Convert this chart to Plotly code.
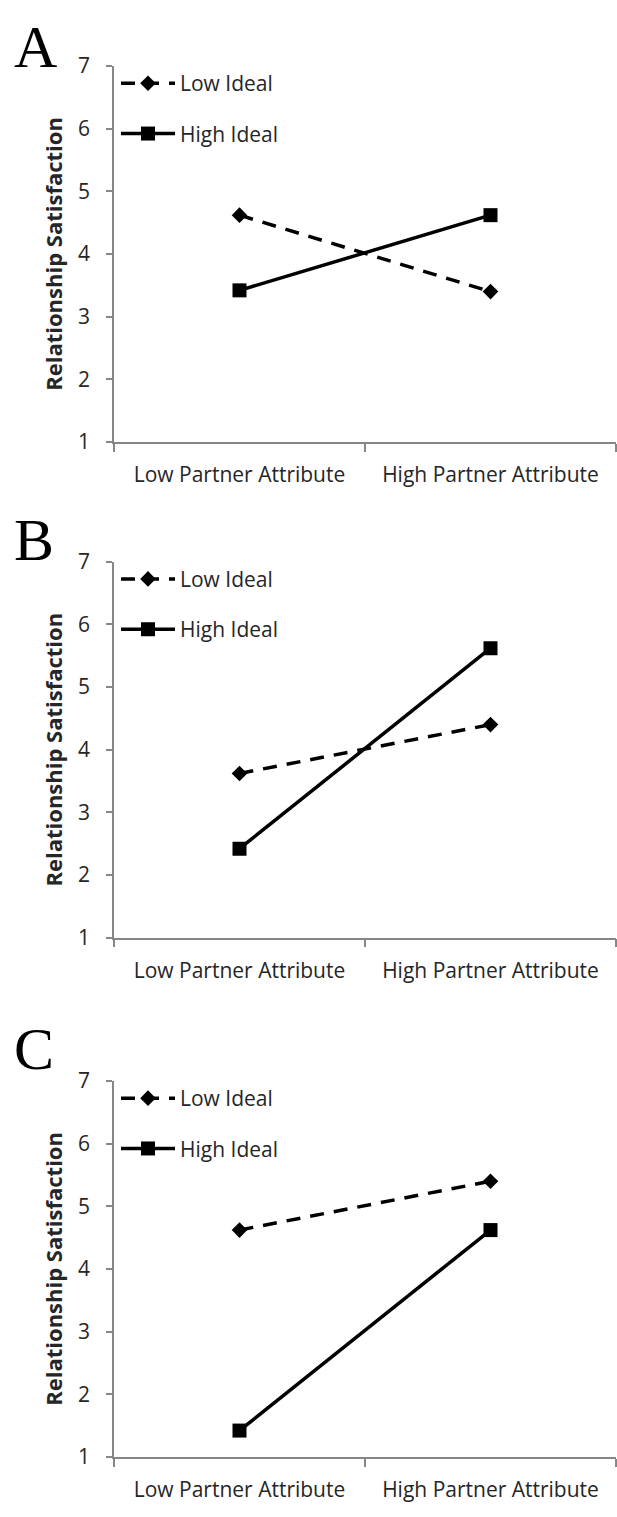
import plotly.graph_objects as go

categories = ["Low Partner Attribute", "High Partner Attribute"]
panels = ["A", "B", "C"]
low_ideal = {"A": [4.62, 3.40], "B": [3.62, 4.40], "C": [4.62, 5.40]}
high_ideal = {"A": [3.42, 4.62], "B": [2.42, 5.62], "C": [1.42, 4.62]}
y_ticks = [1, 2, 3, 4, 5, 6, 7]

W, H = 617, 1517
# pixel layout (top, bottom) of each plot area
plot_px = {"A": (52, 435), "B": (557, 940), "C": (1086, 1469)}
letter_px = {"A": 33, "B": 535, "C": 1053}
x0_px, x1_px = 114, 616

TXT = "#262626"
AX = "#868686"
FONT = "Open Sans"
FS = 21

fig = go.Figure()
layout = dict(
    width=W, height=H, margin=dict(l=0, r=0, t=0, b=0),
    paper_bgcolor="white", plot_bgcolor="white",
    font=dict(family=FONT, size=FS, color=TXT),
    annotations=[],
)

for i, p in enumerate(panels):
    n = "" if i == 0 else str(i + 1)
    xa, ya = "x" + n, "y" + n
    leg = "legend" + n
    top, bot = plot_px[p]
    fig.add_trace(go.Scatter(
        x=categories, y=low_ideal[p], name="Low Ideal", mode="lines+markers",
        line=dict(color="black", width=3.5, dash="14px,10px"),
        marker=dict(symbol="diamond", size=12, color="black"),
        xaxis=xa, yaxis=ya, legend=leg, legendgroup=p + "low",
    ))
    fig.add_trace(go.Scatter(
        x=categories, y=high_ideal[p], name="High Ideal", mode="lines+markers",
        line=dict(color="black", width=3.5),
        marker=dict(symbol="square", size=14, color="black"),
        xaxis=xa, yaxis=ya, legend=leg, legendgroup=p + "high",
    ))
    layout["xaxis" + n] = dict(
        domain=[x0_px / W, x1_px / W], anchor=ya,
        type="category", range=[-0.5, 1.5],
        showline=True, linecolor=AX, linewidth=1.5,
        ticks="outside", tickson="boundaries", ticklen=8, tickcolor=AX, tickwidth=1.5,
        showgrid=False, zeroline=False, fixedrange=True,
        tickfont=dict(family=FONT, size=FS, color=TXT),
        ticklabelstandoff=13,
    )
    layout["yaxis" + n] = dict(
        domain=[1 - bot / H, 1 - top / H], anchor=xa,
        range=[1, 7], tickvals=y_ticks,
        showline=True, linecolor=AX, linewidth=1.5,
        ticks="outside", ticklen=6, tickcolor=AX, tickwidth=1.5,
        showgrid=False, zeroline=False,
        tickfont=dict(family=FONT, size=FS, color=TXT),
        ticklabelstandoff=12,
        title=dict(text="<b>Relationship Satisfaction</b>", standoff=9,
                   font=dict(family=FONT, size=22, color=TXT)),
    )
    layout[leg] = dict(
        x=116 / W, xanchor="left", y=1 - (top - 3) / H, yanchor="top",
        bgcolor="rgba(0,0,0,0)", font=dict(family=FONT, size=FS, color=TXT),
        tracegroupgap=20, traceorder="grouped", itemwidth=54,
    )
    layout["annotations"].append(dict(
        text=p, xref="paper", yref="paper", x=12 / W, y=1 - letter_px[p] / H,
        xanchor="left", yanchor="middle", showarrow=False,
        font=dict(family="Liberation Serif", size=60, color="black"),
    ))

fig.update_layout(**layout)
fig.write_html("out.html")
